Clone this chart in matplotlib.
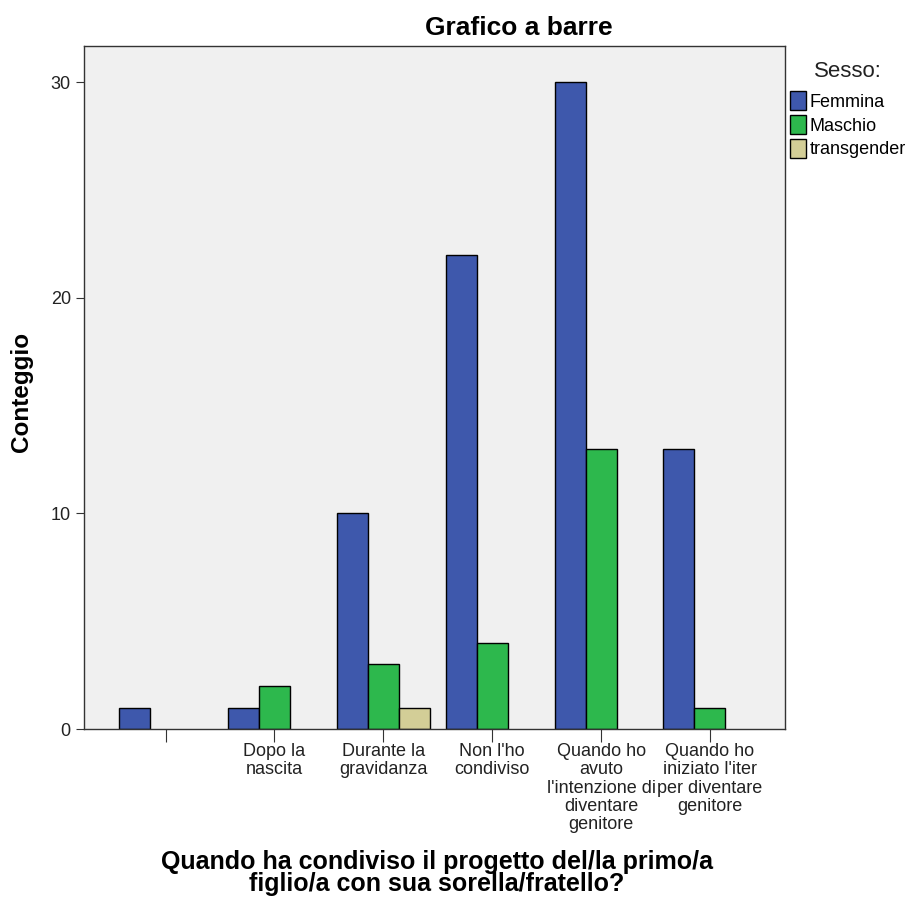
import numpy as np
import matplotlib
matplotlib.use("Agg")
import matplotlib.pyplot as plt
from matplotlib.patches import Patch

plt.rcParams['font.family'] = ['Liberation Sans', 'DejaVu Sans']

# Categories on x axis (first one is the empty/missing answer)
categories = ["",
              "Dopo la\nnascita",
              "Durante la\ngravidanza",
              "Non l'ho\ncondiviso",
              "Quando ho\navuto\nl'intenzione di\ndiventare\ngenitore",
              "Quando ho\niniziato l'iter\nper diventare\ngenitore"]

femmina = [1, 1, 10, 22, 30, 13]
maschio = [0, 2, 3, 4, 13, 1]
transgender = [0, 0, 1, 0, 0, 0]

series_names = ["Femmina", "Maschio", "transgender"]
series_values = [femmina, maschio, transgender]
colors = ["#3e58ac", "#2db84d", "#d3ce97"]

fig = plt.figure(figsize=(9.14, 8.99), dpi=100)
ax = fig.add_axes([0.0919, 0.189, 0.767, 0.7598])
ax.set_facecolor("#f0f0f0")

x = np.arange(len(categories))
w = 0.285
for i, (vals, col) in enumerate(zip(series_values, colors)):
    offs = (i - 1) * w
    for xi, v in zip(x, vals):
        # SPSS leaves out empty bars
        if v == 0:
            continue
        ax.bar(xi + offs, v, width=w, color=col, edgecolor="black", linewidth=1.0)

ax.set_xlim(-0.75, 5.69)
ax.set_ylim(0, 31.67)
ax.set_yticks([0, 10, 20, 30])
ax.set_xticks(x)
ax.set_xticklabels(categories, fontsize=13, linespacing=1.1, color="#222222")
ax.tick_params(axis='y', labelsize=13, length=6, color="#333333", labelcolor="#222222")
ax.tick_params(axis='x', length=9, color="#333333", pad=1)
for s in ax.spines.values():
    s.set_color("#333333")
    s.set_linewidth(1.0)

fig.text(519 / 914, 1 - 28 / 899, "Grafico a barre", fontsize=19, fontweight="bold",
         ha="center", va="center")
fig.text(22 / 914, 1 - 392 / 899, "Conteggio", fontsize=17.5, fontweight="bold",
         rotation=90, ha="center", va="center")
fig.text(437 / 914, 1 - 873 / 899,
         "Quando ha condiviso il progetto del/la primo/a\nfiglio/a con sua sorella/fratello?",
         fontsize=18, fontweight="bold", ha="center", va="center", linespacing=0.92)

handles = [Patch(facecolor=c, edgecolor="black", label=n) for n, c in zip(series_names, colors)]
leg = fig.legend(handles=handles, loc="upper left", bbox_to_anchor=(0.864, 0.9325),
                 frameon=False, fontsize=13, title="Sesso:", title_fontsize=16,
                 handlelength=0.9, handleheight=1.2, handletextpad=0.2,
                 labelspacing=0.25, borderaxespad=0, borderpad=0)
leg.get_title().set_color("#222222")
leg._legend_box.sep = 7

fig.savefig("out.png", dpi=100)
